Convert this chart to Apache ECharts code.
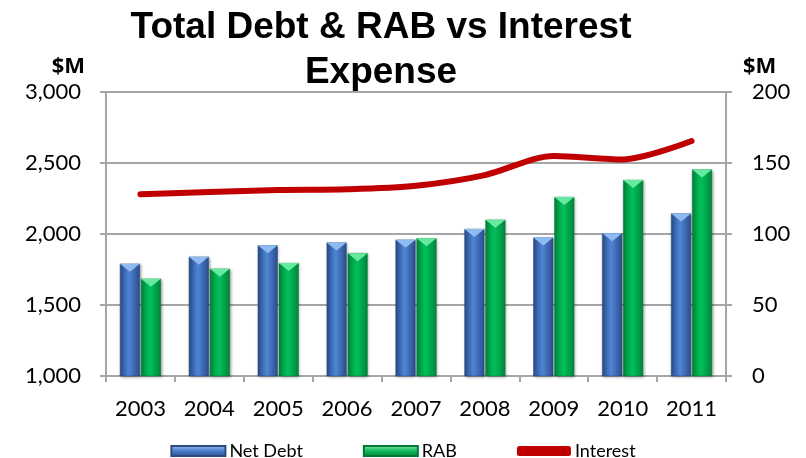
<!DOCTYPE html>
<html>
<head>
<meta charset="utf-8">
<script src="https://cdn.jsdelivr.net/npm/echarts@6/dist/echarts.min.js"></script>
<style>
  html, body { margin: 0; padding: 0; background: #fff; }
  #chart { width: 806px; height: 458px; }
</style>
</head>
<body>
<div id="chart"></div>
<script>
// Yearly figures, $M
const years = ['2003', '2004', '2005', '2006', '2007', '2008', '2009', '2010', '2011'];
const netDebt = [1790, 1840, 1920, 1940, 1960, 2035, 1975, 2005, 2145];
const rab = [1685, 1755, 1795, 1865, 1970, 2100, 2260, 2380, 2455];
const interest = [128, 129.5, 131, 131.5, 134, 141.5, 155, 152.5, 165.5];

const leftTicks = { min: 1000, max: 3000, step: 500 };
const rightTicks = { min: 0, max: 200, step: 50 };

const FONT = 'Lato, "Open Sans", sans-serif';
const GRID_GREY = '#a6a6a6';

// Horizontal shading that gives the columns a rounded look
function columnFill(edge, mid) {
  return new echarts.graphic.LinearGradient(0, 0, 1, 0, [
    { offset: 0, color: edge },
    { offset: 0.45, color: mid },
    { offset: 1, color: edge }
  ]);
}
function legendFill(top, mid, bottom) {
  return new echarts.graphic.LinearGradient(0, 0, 0, 1, [
    { offset: 0, color: top },
    { offset: 0.5, color: mid },
    { offset: 1, color: bottom }
  ]);
}

const chart = echarts.init(document.getElementById('chart'));

const barCommon = {
  barWidth: 20,
  barGap: '5%',
  yAxisIndex: 0
};

const unitName = {
  fontFamily: '"Open Sans", sans-serif',
  fontSize: 22,
  fontWeight: 'bold',
  color: '#000'
};

chart.setOption({
  animation: false,
  textStyle: { fontFamily: FONT },
  graphic: [{
    type: 'text',
    x: 381,
    y: 5,
    style: {
      text: 'Total Debt & RAB vs Interest\nExpense',
      textAlign: 'center',
      fill: '#000',
      font: 'bold 37px "Liberation Sans", Arial, sans-serif',
      lineHeight: 45
    }
  }],
  grid: { left: 106, right: 80, top: 92, bottom: 82 },
  legend: {
    left: 'center',
    top: 437,
    itemWidth: 54,
    itemHeight: 10,
    itemGap: 60,
    textStyle: { fontFamily: FONT, fontSize: 18, color: '#000', padding: [0, 0, 0, -1] },
    data: [
      { name: 'Net Debt', icon: 'rect', itemStyle: { color: legendFill('#9cc2f3', '#4a7ccc', '#2b4f8e') } },
      { name: 'RAB', icon: 'rect', itemStyle: { color: legendFill('#8cf0b4', '#10b75a', '#00803a') } },
      { name: 'Interest', icon: 'roundRect', itemStyle: { color: '#c00000' } }
    ]
  },
  xAxis: {
    type: 'category',
    data: years,
    axisLine: { lineStyle: { color: GRID_GREY, width: 2 } },
    axisTick: { show: true, length: 6, lineStyle: { color: GRID_GREY, width: 2 } },
    axisLabel: { fontSize: 22, color: '#000', margin: 22, fontFamily: FONT }
  },
  yAxis: [{
    type: 'value',
    min: leftTicks.min,
    max: leftTicks.max,
    interval: leftTicks.step,
    name: '$M',
    nameLocation: 'end',
    nameGap: 14,
    nameTextStyle: Object.assign({ align: 'right', padding: [0, 21, 0, 0] }, unitName),
    axisLine: { show: true, lineStyle: { color: GRID_GREY, width: 2 } },
    axisTick: { show: true, length: 6, lineStyle: { color: GRID_GREY, width: 2 } },
    axisLabel: {
      fontSize: 22, color: '#000', margin: 25, fontFamily: FONT,
      formatter: v => v.toLocaleString('en-US')
    },
    splitLine: { show: true, lineStyle: { color: GRID_GREY, width: 2 } }
  }, {
    type: 'value',
    min: rightTicks.min,
    max: rightTicks.max,
    interval: rightTicks.step,
    name: '$M',
    nameLocation: 'end',
    nameGap: 14,
    nameTextStyle: Object.assign({ align: 'left', padding: [0, 0, 0, 17] }, unitName),
    axisLine: { show: true, lineStyle: { color: GRID_GREY, width: 2 } },
    axisTick: { show: true, length: 6, lineStyle: { color: GRID_GREY, width: 2 } },
    axisLabel: { fontSize: 22, color: '#000', margin: 26, fontFamily: FONT },
    splitLine: { show: false }
  }],
  series: [
    Object.assign({
      name: 'Net Debt',
      type: 'bar',
      data: netDebt,
      itemStyle: {
        color: columnFill('#2a4d8a', '#4f85d6'),
        borderColor: '#2a4a80',
        borderWidth: 0.5,
        shadowBlur: 3,
        shadowOffsetX: 1,
        shadowOffsetY: 1,
        shadowColor: 'rgba(0,0,0,0.35)'
      }
    }, barCommon),
    Object.assign({
      name: 'RAB',
      type: 'bar',
      data: rab,
      itemStyle: {
        color: columnFill('#00853c', '#00c25a'),
        borderColor: '#007a36',
        borderWidth: 0.5,
        shadowBlur: 3,
        shadowOffsetX: 1,
        shadowOffsetY: 1,
        shadowColor: 'rgba(0,0,0,0.35)'
      }
    }, barCommon),
    // Bevelled caps on top of each column
    {
      name: 'Net Debt cap',
      type: 'pictorialBar',
      data: netDebt,
      barWidth: 20,
      barGap: '5%',
      symbol: 'triangle',
      symbolRotate: 180,
      symbolSize: [20, 8],
      symbolPosition: 'end',
      itemStyle: { color: '#8fbaf2' },
      z: 3,
      silent: true
    },
    {
      name: 'RAB cap',
      type: 'pictorialBar',
      data: rab,
      barWidth: 20,
      barGap: '5%',
      symbol: 'triangle',
      symbolRotate: 180,
      symbolSize: [20, 8],
      symbolPosition: 'end',
      itemStyle: { color: '#66eaa0' },
      z: 3,
      silent: true
    },
    {
      name: 'Interest',
      type: 'line',
      yAxisIndex: 1,
      data: interest,
      smooth: 0.3,
      showSymbol: false,
      symbol: 'none',
      lineStyle: { color: '#c00000', width: 6, cap: 'round', join: 'round' },
      itemStyle: { color: '#c00000' },
      z: 5
    }
  ]
});
</script>
</body>
</html>
